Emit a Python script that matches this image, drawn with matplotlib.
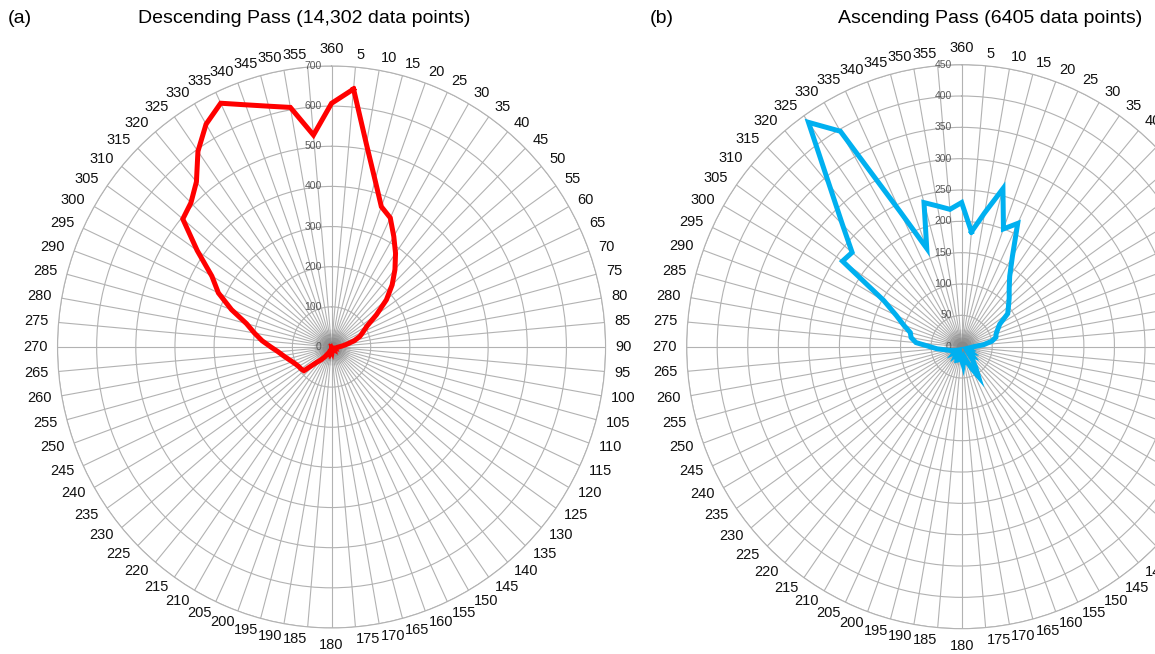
import numpy as np
import matplotlib
matplotlib.use("Agg")
import matplotlib.pyplot as plt

plt.rcParams["font.family"] = ["Liberation Sans", "DejaVu Sans"]

OUT = "out.png"
DPI = 100
PT = 72 / DPI  # points per pixel

# azimuth categories in degrees, clockwise from north (360 sits at the top)
AZIMUTH = [5, 10, 15, 20, 25, 30, 35, 40, 45, 50, 55, 60,
           65, 70, 75, 80, 85, 90, 95, 100, 105, 110, 115, 120,
           125, 130, 135, 140, 145, 150, 155, 160, 165, 170, 175, 180,
           185, 190, 195, 200, 205, 210, 215, 220, 225, 230, 235, 240,
           245, 250, 255, 260, 265, 270, 275, 280, 285, 290, 295, 300,
           305, 310, 315, 320, 325, 330, 335, 340, 345, 350, 355, 360]

# point counts per azimuth bin
DESC_COUNTS = [645, 513, 430, 372, 355, 318, 285, 252, 219, 183, 140, 105,
               89, 77, 60, 40, 27, 18, 14, 12, 10, 8, 9, 7,
               6, 5, 6, 5, 7, 6, 5, 7, 9, 11, 8, 10,
               12, 9, 12, 10, 15, 20, 30, 42, 55, 92, 95, 97,
               101, 107, 115, 125, 137, 155, 178, 200, 225, 272, 319, 353,
               419, 496, 508, 537, 595, 641, 670, 642, 621, 606, 530, 607]

ASC_COUNTS = [184, 217, 261, 200, 217, 166, 137, 121, 110, 100, 92, 72,
              65, 60, 58, 50, 36, 20, 15, 12, 10, 14, 12, 18,
              15, 22, 18, 28, 40, 55, 38, 25, 18, 22, 29, 20,
              15, 18, 22, 23, 18, 12, 15, 10, 12, 15, 10, 12,
              15, 18, 22, 28, 40, 52, 75, 84, 87, 101, 118, 147,
              238, 234, 276, 337, 437, 397, 237, 167, 238, 228, 220, 230]

DESC_RINGS = [0, 100, 200, 300, 400, 500, 600, 700]
ASC_RINGS = [0, 50, 100, 150, 200, 250, 300, 350, 400, 450]

GRID = "#b2b2b2"


def _radar(fig, rect, counts, rings, color):
    ax = fig.add_axes(rect, projection="polar")
    ax.set_theta_zero_location("N")
    ax.set_theta_direction(-1)
    ax.set_aspect("auto")
    rmax = rings[-1]

    theta = np.deg2rad(AZIMUTH)
    ax.set_xticks(theta)
    ax.set_xticklabels([])
    ax.set_yticks(rings)
    ax.set_yticklabels([])
    ax.set_ylim(0, rmax)
    ax.tick_params(length=0)
    ax.grid(True, color=GRID, lw=0.8)
    ax.spines["polar"].set_color(GRID)
    ax.spines["polar"].set_linewidth(0.8)

    # spokes pile up at the hub into a grey smudge
    for rad, alpha in [(18, 0.14), (14, 0.18), (10, 0.22), (6, 0.26)]:
        ax.scatter([0], [0], s=(2 * rad * PT) ** 2, color="#6e6e6e",
                   alpha=alpha, lw=0, zorder=2.5, clip_on=False)

    # closed outline
    t = np.append(theta, theta[0])
    r = np.append(counts, counts[0])
    ax.plot(t, r, color=color, lw=3.6, solid_joinstyle="miter", zorder=5)

    # azimuth labels outside the rim
    for a, th in zip(AZIMUTH, theta):
        s, c = np.sin(th), np.cos(th)
        extra = 0
        if abs(s) < 0.01:
            ha = "center"
            extra = 5
        else:
            ha = "left" if s > 0 else "right"
        ax.annotate(str(a), xy=(th, rmax), xycoords="data",
                    xytext=(10 * s * PT, c * (12 + extra) * PT), textcoords="offset points",
                    ha=ha, va="center", fontsize=10.5, color="#111111",
                    annotation_clip=False)

    # ring values up the north spoke
    for v in rings:
        ax.annotate(str(v), xy=(0, v), xycoords="data",
                    xytext=(-10 * PT, 0), textcoords="offset points",
                    ha="right", va="center", fontsize=7.5, color="#595959",
                    zorder=4)
    return ax


fig = plt.figure(figsize=(11.55, 6.54), dpi=DPI)

_radar(fig, [0.0498, 0.0398, 0.4745, 0.8593], DESC_COUNTS, DESC_RINGS, "#ff0000")
_radar(fig, [0.5945, 0.0387, 0.4762, 0.8624], ASC_COUNTS, ASC_RINGS, "#00b0f0")

fig.text(0.007, 0.972, "(a)", fontsize=14, va="center", ha="left")
fig.text(0.1195, 0.972, "Descending Pass (14,302 data points)", fontsize=14, va="center", ha="left")
fig.text(0.5628, 0.972, "(b)", fontsize=14, va="center", ha="left")
fig.text(0.7255, 0.972, "Ascending Pass (6405 data points)", fontsize=14, va="center", ha="left")

fig.savefig(OUT, dpi=DPI)
plt.close(fig)
